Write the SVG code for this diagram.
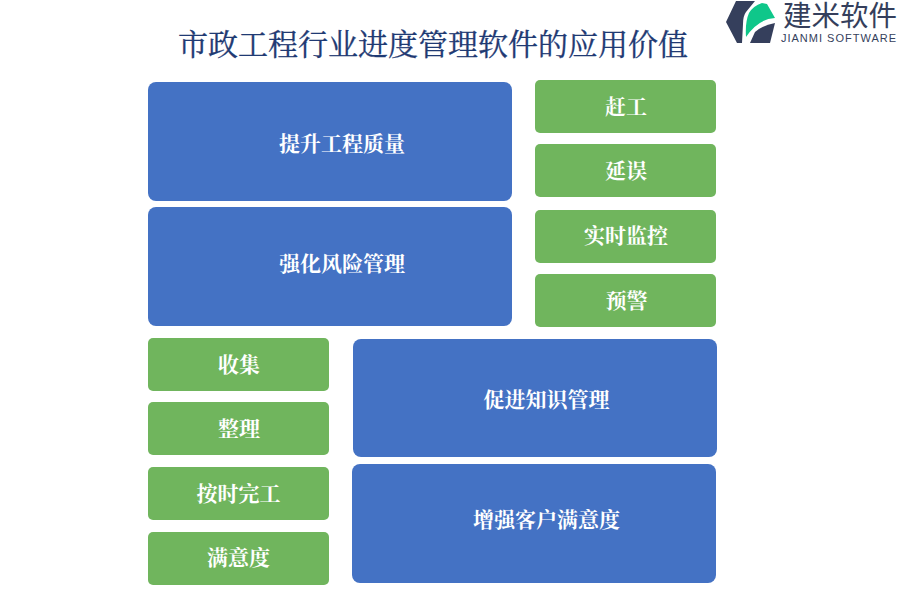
<svg xmlns="http://www.w3.org/2000/svg" width="900" height="600" viewBox="0 0 900 600">
<style>
.b{fill:#4472C4}.g{fill:#70B55D}
text{font-family:"Noto Serif CJK SC","Noto Sans CJK SC","Liberation Serif",serif}
.t{fill:#fff;font-size:21px;font-weight:700;text-anchor:middle}
</style>
<rect width="900" height="600" fill="#fff"/>
<text id="title" x="433" y="55" font-size="30" fill="#1F3A73" stroke="#1F3A73" stroke-width="0.3" text-anchor="middle">市政工程行业进度管理软件的应用价值</text>
<g id="logo">
<path d="M736 1H755L746 12Q743 16 743 24L742 43H737L726 22Z" fill="#353F5C"/>
<path d="M746 37Q745 22 749 13Q753 6 762 3L767 4L775 18Q758 19 746 37Z" fill="#0FC78A"/>
<path d="M750 43L755 32Q763 25 775 23L770 43Z" fill="#353F5C"/>
<text x="840" y="26" font-size="28.5" fill="#353F5C" text-anchor="middle" style="font-family:'Noto Sans CJK SC',sans-serif">建米软件</text>
<text x="839" y="42" font-size="11" fill="#353F5C" text-anchor="middle" letter-spacing="1" style="font-family:'Liberation Sans',sans-serif">JIANMI SOFTWARE</text>
</g>
<g id="n1"><rect class="b" x="148" y="82" width="364" height="119" rx="8"/><text class="t" x="342" y="151">提升工程质量</text></g>
<g id="n2"><rect class="b" x="148" y="207" width="364" height="119" rx="8"/><text class="t" x="342" y="271">强化风险管理</text></g>
<g id="n3"><rect class="b" x="353" y="339" width="364" height="118" rx="8"/><text class="t" x="546.5" y="407">促进知识管理</text></g>
<g id="n4"><rect class="b" x="352" y="464" width="364" height="119" rx="8"/><text class="t" x="546.5" y="527">增强客户满意度</text></g>
<g id="g1"><rect class="g" x="535" y="80" width="181" height="53" rx="5"/><text class="t" x="626" y="114">赶工</text></g>
<g id="g2"><rect class="g" x="535" y="144" width="181" height="53" rx="5"/><text class="t" x="626" y="178">延误</text></g>
<g id="g3"><rect class="g" x="535" y="210" width="181" height="53" rx="5"/><text class="t" x="626" y="243">实时监控</text></g>
<g id="g4"><rect class="g" x="535" y="274" width="181" height="53" rx="5"/><text class="t" x="626.5" y="308">预警</text></g>
<g id="g5"><rect class="g" x="148" y="338" width="181" height="53" rx="5"/><text class="t" x="239" y="372">收集</text></g>
<g id="g6"><rect class="g" x="148" y="402" width="181" height="53" rx="5"/><text class="t" x="239" y="436">整理</text></g>
<g id="g7"><rect class="g" x="148" y="467" width="181" height="53" rx="5"/><text class="t" x="238.5" y="501">按时完工</text></g>
<g id="g8"><rect class="g" x="148" y="532" width="181" height="53" rx="5"/><text class="t" x="238.5" y="565">满意度</text></g>
</svg>
